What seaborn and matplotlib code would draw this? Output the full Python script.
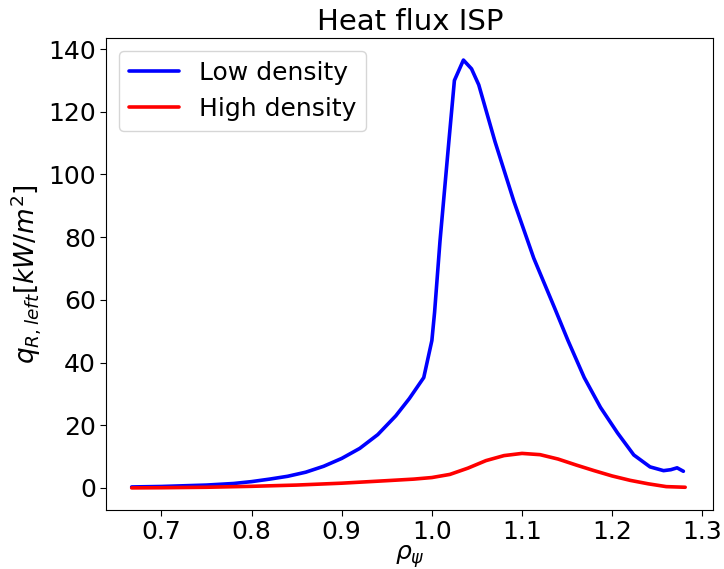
import matplotlib
matplotlib.use("Agg")
import matplotlib.pyplot as plt
import numpy as np
import pandas as pd
import seaborn as sns

# Normalised poloidal flux coordinate and heat flux at the inner strike point
rho_low = [0.667, 0.700, 0.750, 0.780, 0.800, 0.820, 0.840, 0.860, 0.880,
           0.900, 0.920, 0.940, 0.960, 0.975, 0.991, 1.000, 1.003, 1.009,
           1.019, 1.025, 1.035, 1.044, 1.052, 1.070, 1.091, 1.113, 1.136,
           1.151, 1.169, 1.187, 1.206, 1.224, 1.242, 1.257, 1.265, 1.272,
           1.279]
q_low = [0.3, 0.45, 0.9, 1.4, 2.0, 2.8, 3.7, 5.0, 6.9,
         9.4, 12.6, 17.0, 23.0, 28.5, 35.2, 47.0, 56.0, 78.7,
         111.0, 130.0, 136.5, 133.7, 128.6, 110.5, 91.4, 73.3, 57.5,
         47.0, 35.2, 25.7, 17.5, 10.5, 6.7, 5.5, 5.8, 6.4,
         5.3]

rho_high = [0.667, 0.700, 0.750, 0.800, 0.850, 0.900, 0.950, 0.980, 1.000,
            1.020, 1.040, 1.060, 1.080, 1.100, 1.120, 1.140, 1.160, 1.180,
            1.200, 1.220, 1.240, 1.260, 1.281]
q_high = [0.0, 0.05, 0.2, 0.5, 0.9, 1.5, 2.3, 2.8, 3.3,
          4.3, 6.3, 8.7, 10.3, 11.0, 10.6, 9.2, 7.3, 5.5,
          3.8, 2.4, 1.3, 0.4, 0.2]

labels = ["Low density", "High density"]
colors = ["blue", "red"]

df = pd.concat([
    pd.DataFrame({"rho": rho_low, "q": q_low, "case": labels[0]}),
    pd.DataFrame({"rho": rho_high, "q": q_high, "case": labels[1]}),
], ignore_index=True)

sns.set_style("ticks")
plt.rcParams["font.family"] = ["DejaVu Sans"]
plt.rcParams["text.color"] = "black"
plt.rcParams["axes.labelcolor"] = "black"
plt.rcParams["xtick.color"] = "black"
plt.rcParams["ytick.color"] = "black"

fig = plt.figure(figsize=(7.24, 5.69), dpi=100)
ax = fig.add_axes([0.147, 0.104, 0.838, 0.829])

sns.lineplot(data=df, x="rho", y="q", hue="case", hue_order=labels,
             palette=dict(zip(labels, colors)), linewidth=2.6, sort=False,
             estimator=None, ax=ax)

for side in ["top", "right", "left", "bottom"]:
    ax.spines[side].set_color("black")
    ax.spines[side].set_linewidth(0.8)

ax.set_xticks([0.7, 0.8, 0.9, 1.0, 1.1, 1.2, 1.3])
ax.set_yticks([0, 20, 40, 60, 80, 100, 120, 140])
ax.tick_params(labelsize=18, direction="out", length=4, color="black",
               labelcolor="black")
ax.set_xlim(0.639, 1.312)
ax.set_ylim(-7.0, 143.5)

ax.set_title("Heat flux ISP", fontsize=21, color="black")
ax.set_xlabel(r"$\rho_\psi$", fontsize=18, labelpad=-1)
ax.set_ylabel(r"$q_{R,left}[kW/m^2]$", fontsize=19)

leg = ax.legend(loc="upper left", fontsize=18, frameon=True)
leg.get_frame().set_edgecolor("#cccccc")
for t in leg.get_texts():
    t.set_color("black")

fig.savefig("out.png", dpi=100)
